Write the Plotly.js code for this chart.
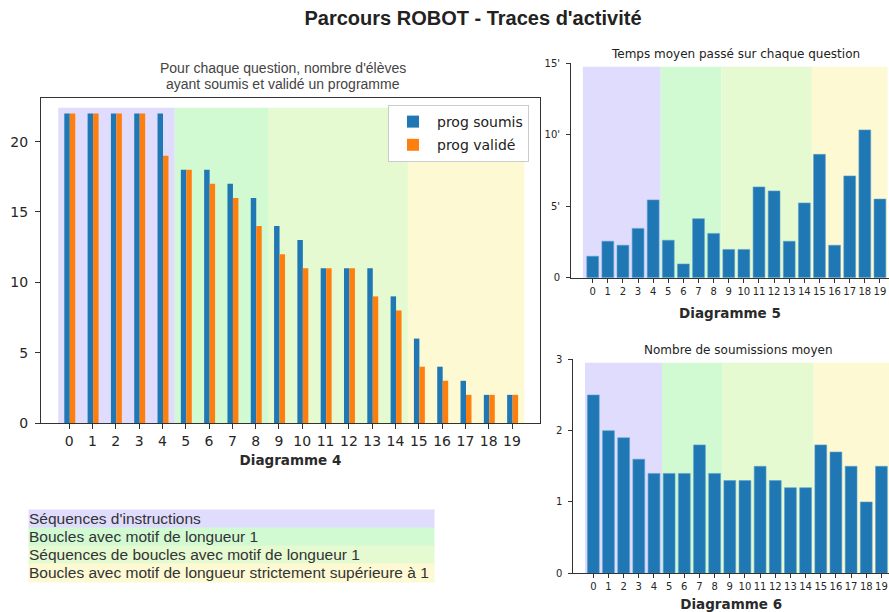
<!DOCTYPE html>
<html>
<head>
<meta charset="utf-8">
<script src="https://cdn.plot.ly/plotly-3.0.1.min.js"></script>
<style>html,body{margin:0;padding:0;background:#fff;}#chart{width:889px;height:612px;}</style>
</head>
<body>
<div id="chart"></div>
<script>
// ---- data ----
const questions = [0,1,2,3,4,5,6,7,8,9,10,11,12,13,14,15,16,17,18,19];
const progSoumis = [22,22,22,22,22,18,18,17,16,14,13,11,11,11,9,6,4,3,2,2];
const progValide = [22,22,22,22,19,18,17,16,14,12,11,11,11,9,8,4,3,2,2,2];
const tempsMoyen = [1.5,2.55,2.27,3.45,5.44,2.62,0.96,4.13,3.1,1.98,1.98,6.35,6.07,2.55,5.23,8.63,2.27,7.12,10.34,5.5];
const soumissionsMoyen = [2.5,2.0,1.9,1.6,1.4,1.4,1.4,1.8,1.4,1.3,1.3,1.5,1.3,1.2,1.2,1.8,1.7,1.5,1.0,1.5];
const groupLabels = ["Séquences d'instructions","Boucles avec motif de longueur 1","Séquences de boucles avec motif de longueur 1","Boucles avec motif de longueur strictement supérieure à 1"];
const groupFirst = [0,5,9,15];
const groupLast = [4,8,14,19];
const countTickVals = [0,5,10,15,20];
const timeTickVals = [0,5,10,15];
const timeTickText = ["0","5'","10'","15'"];
const subTickVals = [0,1,2,3];
const seriesNames = ["prog soumis","prog validé"];
const subtitleLines = ["Pour chaque question, nombre d'élèves","ayant soumis et validé un programme"];

// ---- styles ----
const groupColors = ["#dfdcfd","#d1fad3","#e6fad1","#fcf9d3"];
const blue = "#1f77b4", orange = "#ff7f0e";
const W = 889, H = 612;
const px = v => v / W;
const py = v => 1 - v / H;
const tickCol = "#262626";

function shades(xref, yref, startOff, endOff, topFrac) {
  return groupFirst.map((f, i) => ({
    type: "rect", layer: "below", xref: xref, yref: yref + " domain",
    x0: i === 0 ? f - startOff : f - endOff,
    x1: i < groupFirst.length - 1 ? groupFirst[i + 1] - endOff : groupLast[i] + (1 - endOff),
    y0: 0, y1: topFrac,
    fillcolor: groupColors[i], line: {width: 0}
  }));
}

const traces = [
  {type: "bar", x: questions, y: progSoumis, name: seriesNames[0], xaxis: "x", yaxis: "y",
   marker: {color: blue}, offset: -0.21, width: 0.235, legendgroup: "a", hoverinfo: "skip"},
  {type: "bar", x: questions, y: progValide, name: seriesNames[1], xaxis: "x", yaxis: "y",
   marker: {color: orange}, offset: 0.025, width: 0.235, legendgroup: "b", hoverinfo: "skip"},
  {type: "bar", x: questions, y: tempsMoyen, xaxis: "x2", yaxis: "y2", showlegend: false,
   marker: {color: blue, line: {color: "#5d9fcf", width: 0.6}}, width: 0.78, hoverinfo: "skip"},
  {type: "bar", x: questions, y: soumissionsMoyen, xaxis: "x3", yaxis: "y3", showlegend: false,
   marker: {color: blue, line: {color: "#5d9fcf", width: 0.6}}, width: 0.78, hoverinfo: "skip"}
];

const tickFontBig = {family: "DejaVu Sans", size: 14, color: tickCol};
const tickFontSmall = {family: "DejaVu Sans", size: 10, color: tickCol};
const axTitleFont = {family: "DejaVu Sans", size: 13.5, color: "#2a2a2a", weight: "bold"};

const shapes = [].concat(
  shades("x", "y", 0.47, 0.47, 0.97),
  shades("x2", "y2", 0.65, 0.5, 0.984),
  shades("x3", "y3", 0.55, 0.47, 0.984)
);

const subtitleY = [68, 84];
const annotations = subtitleLines.map((t, i) => ({
  xref: "paper", yref: "paper", x: px(283), y: py(subtitleY[i]), xanchor: "center", yanchor: "middle", showarrow: false,
  text: t, font: {family: "Liberation Sans", size: 14, color: "#444"}}));
annotations.push(
  {xref: "paper", yref: "paper", x: px(735.5), y: py(54), xanchor: "center", yanchor: "middle", showarrow: false,
   text: "Temps moyen passé sur chaque question", font: {family: "DejaVu Sans", size: 12, color: "#222"}},
  {xref: "paper", yref: "paper", x: px(738), y: py(350), xanchor: "center", yanchor: "middle", showarrow: false,
   text: "Nombre de soumissions moyen", font: {family: "DejaVu Sans", size: 12, color: "#222"}}
);
const rowCenters = [519.2, 537, 554.5, 572.5];
groupLabels.forEach((lab, i) => {
  annotations.push({xref: "paper", yref: "paper", x: px(28.3), y: py(rowCenters[i]), xanchor: "left", yanchor: "middle",
    showarrow: false, text: lab, align: "left", width: 405, height: 17.6, borderpad: 0, bgcolor: groupColors[i],
    font: {family: "Liberation Sans", size: 15.5, color: "#333"}});
});

const layout = {
  width: W, height: H,
  margin: {l: 0, r: 0, t: 0, b: 0},
  paper_bgcolor: "#fff", plot_bgcolor: "rgba(0,0,0,0)",
  title: {text: "<b>Parcours ROBOT - Traces d'activité</b>", x: px(473), xanchor: "center", y: py(18), yanchor: "middle",
          yref: "container", font: {family: "Liberation Sans", size: 20, color: "#222"}},
  barmode: "overlay",
  showlegend: true,
  legend: {x: px(388), y: py(105), xanchor: "left", yanchor: "top", bgcolor: "#fff", bordercolor: "#ccc", borderwidth: 1,
           font: {family: "DejaVu Sans", size: 14, color: "#222"}, tracegroupgap: 2, itemwidth: 38},
  xaxis: {domain: [px(41), px(540)], range: [-1.21, 20.2], tickmode: "array", tickvals: questions,
          ticks: "outside", ticklen: 5, tickcolor: "#333", showline: true, linecolor: "#333", linewidth: 1, mirror: true,
          showgrid: false, zeroline: false, tickfont: tickFontBig, automargin: false, fixedrange: true,
          title: {text: "Diagramme 4", font: axTitleFont, standoff: 7}},
  yaxis: {domain: [py(423), py(98)], range: [0, 23.1], tickmode: "array", tickvals: countTickVals,
          ticks: "outside", ticklen: 5, tickcolor: "#333", showline: true, linecolor: "#333", linewidth: 1, mirror: true,
          showgrid: false, zeroline: false, tickfont: tickFontBig, automargin: false, fixedrange: true, ticklabelstandoff: 4},
  xaxis2: {domain: [px(571), 1], range: [-1.435, 19.6], tickmode: "array", tickvals: questions, anchor: "y2",
          ticks: "outside", ticklen: 4, tickcolor: "#333", showline: true, linecolor: "#333", linewidth: 1,
          showgrid: false, zeroline: false, tickfont: tickFontSmall, automargin: false, fixedrange: true,
          title: {text: "Diagramme 5", font: axTitleFont, standoff: 12}},
  yaxis2: {domain: [py(277.7), py(63.3)], range: [0, 15], tickmode: "array", tickvals: timeTickVals, ticktext: timeTickText, anchor: "x2",
          ticks: "outside", ticklen: 4, tickcolor: "#333", showline: true, linecolor: "#333", linewidth: 1,
          showgrid: false, zeroline: false, tickfont: tickFontSmall, automargin: false, fixedrange: true, ticklabelstandoff: 4},
  xaxis3: {domain: [px(573.3), 1], range: [-1.32, 19.5], tickmode: "array", tickvals: questions, anchor: "y3",
          ticks: "outside", ticklen: 4, tickcolor: "#333", showline: true, linecolor: "#333", linewidth: 1,
          showgrid: false, zeroline: false, tickfont: tickFontSmall, automargin: false, fixedrange: true,
          title: {text: "Diagramme 6", font: axTitleFont, standoff: 8}},
  yaxis3: {domain: [py(573.3), py(359.3)], range: [0, 3], tickmode: "array", tickvals: subTickVals, anchor: "x3",
          ticks: "outside", ticklen: 4, tickcolor: "#333", showline: true, linecolor: "#333", linewidth: 1,
          showgrid: false, zeroline: false, tickfont: tickFontSmall, automargin: false, fixedrange: true, ticklabelstandoff: 4},
  shapes: shapes,
  annotations: annotations
};

Plotly.newPlot("chart", traces, layout, {displayModeBar: false, staticPlot: true});
</script>
</body>
</html>
